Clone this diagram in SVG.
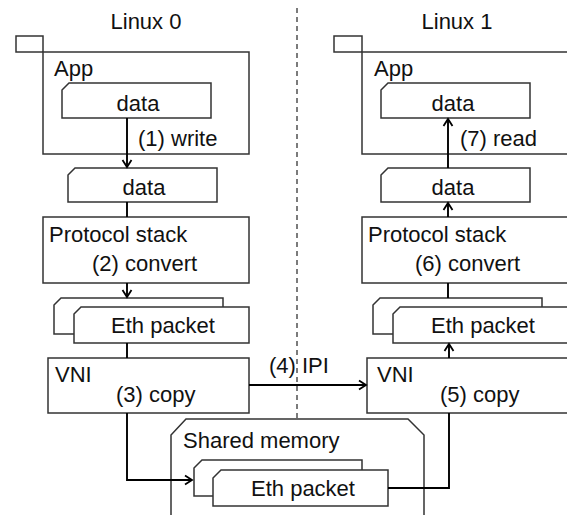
<svg xmlns="http://www.w3.org/2000/svg" width="567" height="515" viewBox="0 0 567 515">
<style>
.box{fill:#fff;stroke:#333;stroke-width:1.5}
.t{font-family:"Liberation Sans",Arial,sans-serif;font-size:22px;fill:#111}
.m{text-anchor:middle}
.c{fill:none;stroke:#000;stroke-width:1.9}
.dash{fill:none;stroke:#444;stroke-width:1.4;stroke-dasharray:5 4}
</style>
<defs>
<marker id="ah" markerUnits="userSpaceOnUse" markerWidth="12" markerHeight="12" viewBox="0 0 12 12" refX="10" refY="6" orient="auto">
<path d="M3,1.5 L10,6 L3,10.5" fill="none" stroke="#000" stroke-width="1.8"/>
</marker>
</defs>
<rect width="567" height="515" fill="#fff"/>
<line class="dash" x1="297" y1="8" x2="297" y2="419"/>
<g id="title0"><text class="t m" x="146" y="29">Linux 0</text></g>
<g id="title1"><text class="t m" x="457" y="29">Linux 1</text></g>
<g id="app0">
<rect class="box" x="16" y="36" width="27" height="16"/>
<rect class="box" x="43" y="52" width="206" height="102"/>
<text class="t" x="54" y="76">App</text>
</g>
<g id="data0a">
<path class="box" d="M62,90 L69,83 L211,83 L211,118 L62,118 Z"/>
<text class="t m" x="138" y="111">data</text>
</g>
<g id="data0b">
<path class="box" d="M68,175 L75,168 L217,168 L217,202 L68,202 Z"/>
<text class="t m" x="144" y="195">data</text>
</g>
<g id="proto0">
<rect class="box" x="43" y="217" width="206" height="66"/>
<text class="t" x="49" y="242">Protocol stack</text>
</g>
<g id="eth0">
<path class="box" d="M54,305 L61,298 L223,298 L223,334 L54,334 Z"/>
<path class="box" d="M74,314 L81,307 L249,307 L249,343 L74,343 Z"/>
<text class="t m" x="163" y="333">Eth packet</text>
</g>
<g id="vni0">
<rect class="box" x="48" y="358" width="201" height="55"/>
<text class="t" x="55" y="382">VNI</text>
</g>
<g id="app1">
<rect class="box" x="334" y="36" width="28" height="16"/>
<rect class="box" x="362" y="52" width="215" height="102"/>
<text class="t" x="374" y="76">App</text>
</g>
<g id="data1a">
<path class="box" d="M381,90 L388,83 L530,83 L530,118 L381,118 Z"/>
<text class="t m" x="453" y="111">data</text>
</g>
<g id="data1b">
<path class="box" d="M381,175 L388,168 L530,168 L530,202 L381,202 Z"/>
<text class="t m" x="453" y="195">data</text>
</g>
<g id="proto1">
<rect class="box" x="362" y="217" width="215" height="66"/>
<text class="t" x="368" y="242">Protocol stack</text>
</g>
<g id="eth1">
<path class="box" d="M373,305 L380,298 L542,298 L542,334 L373,334 Z"/>
<path class="box" d="M393,314 L400,307 L577,307 L577,343 L393,343 Z"/>
<text class="t m" x="483" y="333">Eth packet</text>
</g>
<g id="vni1">
<rect class="box" x="367" y="358" width="210" height="55"/>
<text class="t" x="377" y="382">VNI</text>
</g>
<g id="shm">
<path class="box" d="M171,520 L171,435 L186,419 L408,419 L424,435 L424,520"/>
<text class="t" x="183" y="448">Shared memory</text>
</g>
<g id="eth2">
<path class="box" d="M194,468 L202,460 L362,460 L362,496 L194,496 Z"/>
<path class="box" d="M213,478 L221,470 L388,470 L388,506 L213,506 Z"/>
<text class="t m" x="303" y="496">Eth packet</text>
</g>
<g id="connectors">
<path class="c" d="M127,118 L127,167" marker-end="url(#ah)"/>
<path class="c" d="M127,202 L127,217"/>
<path class="c" d="M127,283 L127,297" marker-end="url(#ah)"/>
<path class="c" d="M127,343 L127,358"/>
<path class="c" d="M127,413 L127,480 L192,480" marker-end="url(#ah)"/>
<path class="c" d="M249,385 L366,385" marker-end="url(#ah)"/>
<path class="c" d="M388,488 L449,488 L449,413"/>
<path class="c" d="M449,358 L449,344" marker-end="url(#ah)"/>
<path class="c" d="M448,283 L448,298"/>
<path class="c" d="M448,217 L448,203" marker-end="url(#ah)"/>
<path class="c" d="M448,168 L448,119" marker-end="url(#ah)"/>
<text class="t" x="138" y="146">(1) write</text>
<text class="t" x="92" y="271">(2) convert</text>
<text class="t" x="116" y="402">(3) copy</text>
<text class="t" x="269" y="373">(4) IPI</text>
<text class="t" x="440" y="402">(5) copy</text>
<text class="t" x="415" y="271">(6) convert</text>
<text class="t" x="460" y="146">(7) read</text>
</g>
</svg>
